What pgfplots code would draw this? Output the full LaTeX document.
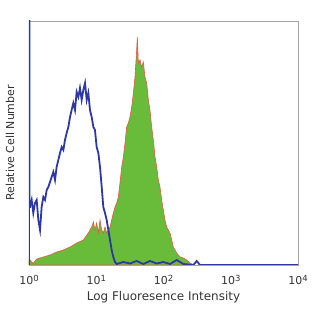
\documentclass[border=0pt]{standalone}
\usepackage{fontspec}
\setmainfont{DejaVu Sans}
\usepackage{pgfplots}
\pgfplotsset{compat=1.18}
\definecolor{hgreen}{RGB}{104,188,58}
\definecolor{hred}{RGB}{228,90,70}
\definecolor{hblue}{RGB}{45,55,165}
\newcommand{\tl}[1]{10\raisebox{0.55ex}{\fontsize{8.5}{9}\selectfont #1}}
\begin{document}
\begin{tikzpicture}[x=1bp,y=1bp]
\useasboundingbox (0,0) rectangle (312,312);
\begin{axis}[at={(29bp,47bp)},anchor=south west,
  scale only axis, width=269bp, height=244bp,
  xmin=0, xmax=4, ymin=0, ymax=244,
  xtick={0,1,2,3,4}, xticklabels={\tl{0},\tl{1},\tl{2},\tl{3},\tl{4}},
  ytick=\empty, major tick length=0pt,
  axis line style={draw=gray!70, line width=0.8pt},
  tick label style={font=\fontsize{11}{13}\selectfont, text=black!80},
  xticklabel style={anchor=center, yshift=-15bp},
  xlabel={Log Fluoresence Intensity},
  ylabel={Relative Cell Number},
  xlabel style={at={(axis description cs:0.5,0)}, anchor=center, yshift=-32bp, font=\fontsize{12}{14}\selectfont, text=black!80},
  ylabel style={at={(axis description cs:0,0.5)}, anchor=center, yshift=19bp, font=\fontsize{11}{13}\selectfont, text=black!80},
  clip=true]
\addplot[fill=hgreen, draw=hred, line width=0.6pt] coordinates {
(0,0) (0,5) (0.015,5) (0.06,1.5) (0.114,6) (0.213,8) (0.312,10) (0.411,13) (0.511,15)
(0.610,18) (0.709,22) (0.808,25) (0.882,32) (0.932,38) (0.957,43) (0.981,35)
(1.006,42) (1.031,32) (1.056,45) (1.081,35) (1.105,32) (1.130,38) (1.155,32)
(1.180,35) (1.205,38) (1.229,45) (1.254,52) (1.279,58) (1.304,62) (1.328,68)
(1.353,82) (1.378,98) (1.403,108) (1.428,122) (1.452,138) (1.477,142) (1.502,148)
(1.527,158) (1.552,172) (1.576,188) (1.601,215) (1.611,228) (1.626,202) (1.651,205)
(1.675,198) (1.700,203) (1.725,188) (1.750,182) (1.775,165) (1.799,155) (1.824,138)
(1.849,125) (1.874,108) (1.899,98) (1.923,85) (1.948,78) (1.973,65) (1.998,55)
(2.022,45) (2.047,38) (2.072,35) (2.097,32) (2.122,25) (2.146,18) (2.171,15)
(2.196,12) (2.246,8) (2.295,7) (2.345,5) (2.394,2) (2.444,0)
} \closedcycle;
\addplot[draw=hblue, line width=1.8pt] coordinates {
(0,0) (0,250) (0.008,250) (0.008,58) (0.015,58) (0.04,65) (0.064,52) (0.089,62)
(0.114,65) (0.139,45) (0.164,35) (0.188,58) (0.213,68) (0.238,65) (0.263,75)
(0.288,78) (0.312,83) (0.337,88) (0.362,93) (0.387,85) (0.411,98) (0.436,105)
(0.461,112) (0.486,118) (0.511,115) (0.535,125) (0.560,132) (0.585,138) (0.610,148)
(0.634,155) (0.659,162) (0.684,155) (0.709,173) (0.734,168) (0.758,177) (0.783,165)
(0.808,175) (0.833,182) (0.858,165) (0.882,172) (0.907,155) (0.932,148) (0.957,138)
(0.981,135) (1.006,118) (1.031,112) (1.056,98) (1.081,78) (1.105,58) (1.130,52)
(1.155,45) (1.180,35) (1.205,25) (1.229,15) (1.254,8) (1.279,3) (1.304,1)
(1.403,3) (1.502,1.5) (1.601,4) (1.700,1) (1.799,4) (1.899,1.5) (1.998,3)
(2.097,1) (2.196,5) (2.295,1) (2.444,0) (2.494,4) (2.543,0) (4,0)
};
\end{axis}
\end{tikzpicture}
\end{document}
